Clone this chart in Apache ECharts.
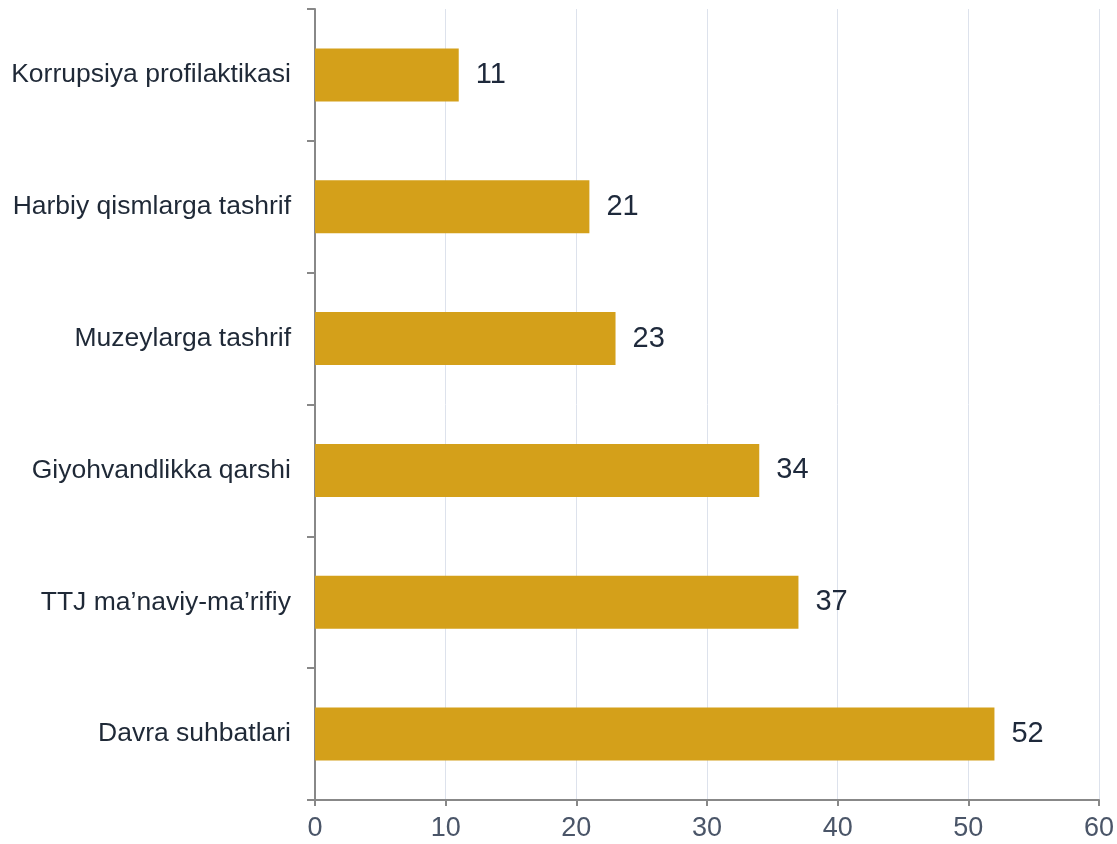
<!DOCTYPE html>
<html>
<head>
<meta charset="utf-8">
<script src="https://cdn.jsdelivr.net/npm/echarts@6/dist/echarts.min.js"></script>
<style>
html, body { margin: 0; padding: 0; background: #fff; }
#chart { width: 1117px; height: 844px; }
</style>
</head>
<body>
<div id="chart"></div>
<script>
// tadbirlar soni
var categories = ['Korrupsiya profilaktikasi', 'Harbiy qismlarga tashrif', 'Muzeylarga tashrif',
    'Giyohvandlikka qarshi', 'TTJ ma\u2019naviy-ma\u2019rifiy', 'Davra suhbatlari'];
var counts = [11, 21, 23, 34, 37, 52];
var xTicks = [0, 60, 10]; // min, max, interval

var chart = echarts.init(document.getElementById('chart'));

var option = {
    animation: false,
    textStyle: {
        fontFamily: 'Liberation Sans, Arial, sans-serif'
    },
    grid: {
        left: 315,
        right: 16,
        top: 9,
        bottom: 44,
        containLabel: false
    },
    xAxis: {
        type: 'value',
        min: xTicks[0],
        max: xTicks[1],
        interval: xTicks[2],
        axisLine: {
            show: true,
            lineStyle: { color: '#888888', width: 2 }
        },
        axisTick: {
            show: true,
            length: 6,
            lineStyle: { color: '#888888', width: 2 }
        },
        axisLabel: {
            color: '#4a5568',
            fontSize: 27,
            margin: 15
        },
        splitLine: {
            lineStyle: { color: '#dde2ec', width: 1 }
        }
    },
    yAxis: {
        type: 'category',
        inverse: true,
        data: categories,
        axisLine: {
            show: true,
            lineStyle: { color: '#888888', width: 2 }
        },
        axisTick: {
            show: true,
            length: 8,
            lineStyle: { color: '#888888', width: 2 }
        },
        axisLabel: {
            color: '#1f2937',
            fontSize: 26.5,
            margin: 24
        }
    },
    series: [
        {
            type: 'bar',
            data: counts,
            barWidth: 53,
            itemStyle: {
                color: '#d4a01a'
            },
            label: {
                show: true,
                position: 'right',
                distance: 17,
                color: '#1e293b',
                fontSize: 29
            }
        }
    ]
};

chart.setOption(option);
</script>
</body>
</html>
